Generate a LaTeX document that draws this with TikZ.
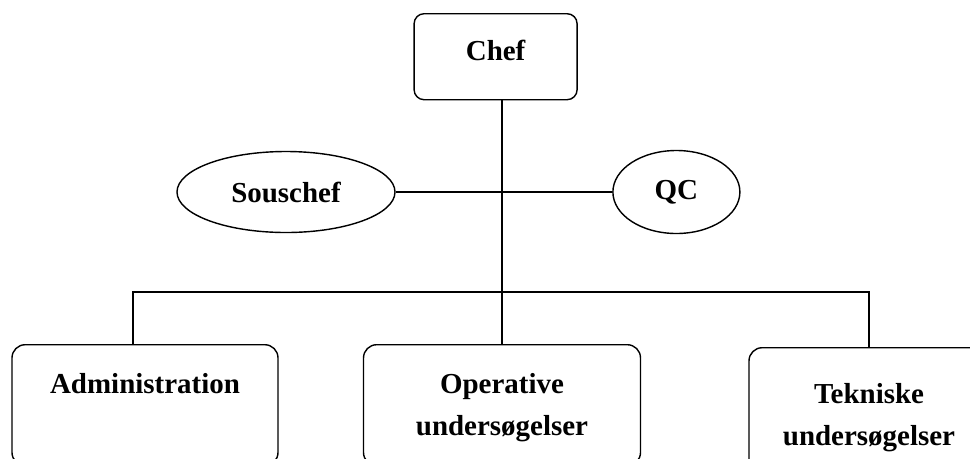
\documentclass[tikz,border=0pt]{standalone}
\usepackage{fontspec}
\setmainfont{Liberation Serif}
\usetikzlibrary{positioning,shapes.geometric}

\begin{document}
\begin{tikzpicture}[
    font=\fontsize{20.6pt}{29.8pt}\selectfont\bfseries,
    line width=1pt,
    leader/.style={
        draw,
        rounded corners=0.25cm,
        align=center,
        inner sep=0pt,
        text width=4.075cm,
        text height=1.175cm,
        text depth=0.975cm,
        anchor=north
    },
    staff/.style={
        draw,
        ellipse,
        inner sep=0pt
    },
    unit/.style={
        draw,
        rounded corners=0.33cm,
        align=center,
        inner sep=0pt,
        text height=1.225cm,
        text depth=1.8cm,
        anchor=north
    },
    link/.style={
        line width=1pt
    }
]

\useasboundingbox (0,0) rectangle (24.25,-11.45);
\clip (0,0) rectangle (24.25,-11.45);

% Top
\node[leader] (chef) at (12.39,-0.325) {Chef};

% Staff
\node[staff, minimum width=5.45cm, minimum height=2.025cm] (sous) at (7.15,-4.8) {Souschef};
\node[staff, minimum width=3.175cm, minimum height=2.075cm] (qc) at (16.91,-4.8) {QC};

% Units
\node[unit, text width=6.65cm] (adm) at (3.625,-8.6) {Administration};
\node[unit, text width=6.925cm] (oper) at (12.55,-8.6) {Operative\\undersøgelser};
\node[unit, text width=6.0cm, text height=1.4cm] (tek) at (21.725,-8.675) {Tekniske\\undersøgelser};

% Lines
\coordinate (bar) at (12.55,-7.3);
\draw[link] (chef.south -| bar) -- (oper.north);
\draw[link] (sous.east) -- (qc.west);
\draw[link] ([xshift=-0.3cm]adm.north) |- (bar) -| (tek.north);

\end{tikzpicture}
\end{document}
